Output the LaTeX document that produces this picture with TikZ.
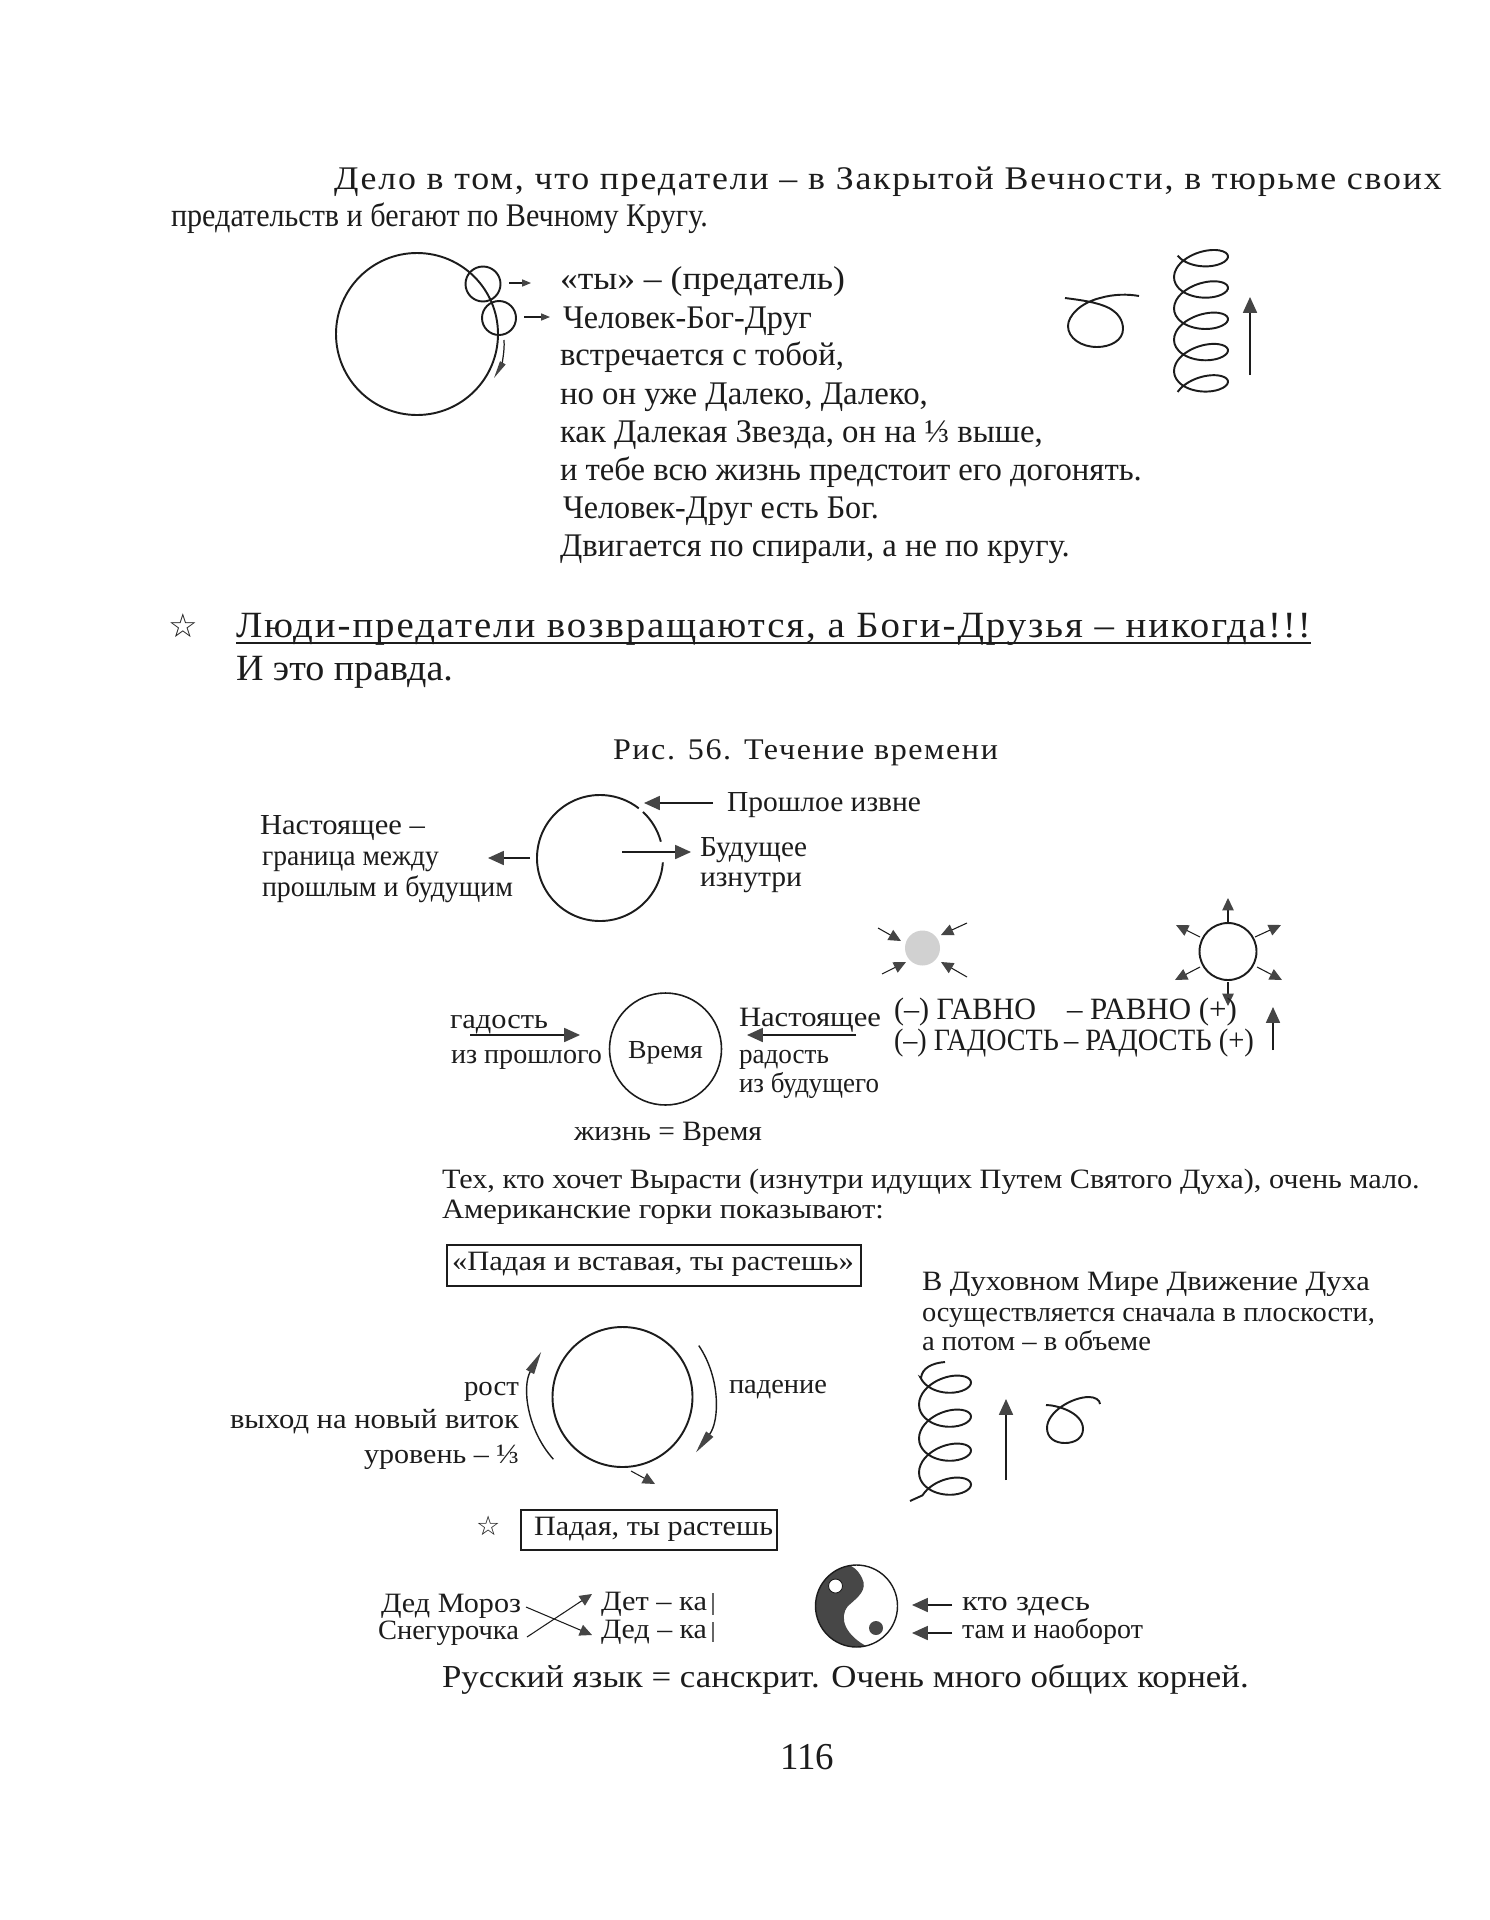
\documentclass[tikz,border=0pt]{standalone}
\usepackage{fontspec}
\usepackage{graphicx}
\setmainfont{Liberation Serif}
\newfontfamily\spaced[LetterSpace=5]{Liberation Serif}
\newfontfamily\symf{DejaVu Sans}
\usetikzlibrary{arrows.meta}
\definecolor{ink}{HTML}{1C1C1C}
\definecolor{headc}{HTML}{454545}
\newcommand\fs[1]{\fontsize{\the\dimexpr #1pt*569/1000\relax}{\the\dimexpr #1pt*680/1000\relax}\selectfont}
% name, x, baseline y, width, font size, text
\newcommand\tx[6]{\node[lbl] (#1) at (#2,-#3) {\resizebox{\dimexpr #4pt*569/1000\relax}{\height}{\fs{#5}#6}};}
\newcommand\arr[6][arrowbig]{\coordinate (#2a) at (#3); \coordinate (#2b) at (#4,#5); \draw[#1] (#2a) -- (#2b);#6}
\tikzset{
 lbl/.style={anchor=base west,inner sep=0pt,outer sep=0pt,text=ink},
 ln/.style={draw=ink,line width=1.1pt},
 thin line/.style={draw=ink,line width=0.75pt},
 arrowbig/.style={draw=ink,line width=0.8pt,-{Triangle[length=9pt,width=8pt,color=headc]}},
 arrowmid/.style={draw=ink,line width=0.6pt,-{Triangle[length=7pt,width=6.5pt,color=headc]}},
 arrowsmall/.style={draw=ink,line width=0.6pt,-{Triangle[length=5pt,width=4pt,color=headc]}},
 arrowlong/.style={draw=ink,line width=0.8pt,-{Triangle[length=13pt,width=5pt,color=headc]}},
 boxr/.style={draw=ink,line width=0.9pt,fill=none},
}
\begin{document}
\begin{tikzpicture}[x=0.02cm,y=0.02cm]
\useasboundingbox (0,0) rectangle (1489,-1920);
\fill[white] (0,0) rectangle (1489,-1920);
% top paragraph
\tx{p1}{334}{189}{1108}{33}{\spaced Дело в том, что предатели – в Закрытой Вечности, в тюрьме своих}
\tx{p2}{171}{226}{537}{33}{предательств и бегают по Вечному Кругу.}
% first figure
\draw[ln] (417,-334) circle (81);
\draw[ln] (483,-284) circle (17.5);
\draw[ln] (499,-318) circle (17);
\arr[arrowsmall]{a1}{509,-283}{531}{-283}{}
\arr[arrowsmall]{a2}{524,-317}{550}{-317}{}
\coordinate (a3a) at (504,-340); \coordinate (a3b) at (494,-378);
\draw[draw=ink,line width=0.7pt,-{Triangle[length=10pt,width=3.5pt,color=headc]}] (a3a) .. controls (505,-352) and (501,-366) .. (a3b);
\tx{t1}{560}{289}{285}{33}{«ты» – (предатель)}
\tx{t2}{563}{328}{249}{33}{Человек-Бог-Друг}
\tx{t3}{560}{365}{284}{33}{встречается с тобой,}
\tx{t4}{560}{404}{368}{33}{но он уже Далеко, Далеко,}
\tx{t5}{560}{442}{483}{33}{как Далекая Звезда, он на ⅓ выше,}
\tx{t6}{560}{480}{582}{33}{и тебе всю жизнь предстоит его догонять.}
\tx{t7}{563}{518}{316}{33}{Человек-Друг есть Бог.}
\tx{t8}{560}{556}{510}{33}{Двигается по спирали, а не по кругу.}
% curl top
\draw[ln] (1065,-298) .. controls (1080,-300) and (1097,-302) .. (1109,-308) .. controls (1118,-313) and (1123,-320) .. (1123,-329) .. controls (1123,-340) and (1111,-347) .. (1097,-347) .. controls (1081,-347) and (1068,-338) .. (1068,-326) .. controls (1068,-316) and (1080,-303) .. (1100,-298) .. controls (1114,-294) and (1128,-294) .. (1139,-296);
% coil top
\draw[ln] plot[smooth,samples=160,domain=-150:1590] ({1201+27*cos(\x)},{-(259+0.08694*\x-15*sin(\x)-2.5*cos(\x))});
\arr{a4}{1250,-375}{1250}{-297}{}
% heading
\node[lbl,font=\symf\fs{33}] (star1) at (168,-637) {☆};
\tx{h1}{236}{637}{1075}{37}{\spaced Люди-предатели возвращаются, а Боги-Друзья – никогда!!!}
\coordinate (ula) at (236,-643); \coordinate (ulb) at (1311,-643);
\draw[draw=ink,line width=0.9pt] (ula) -- (ulb);
\tx{h2}{236}{680}{217}{37}{И это правда.}
\tx{cap}{613}{759}{385}{30}{\spaced Рис. 56. Течение времени}
% time circle
\draw[ln] ([shift={(47:63)}]600,-858) arc[start angle=47,end angle=15,radius=63];
\draw[ln] ([shift={(-4:63)}]600,-858) arc[start angle=-4,end angle=-308,radius=63];
\arr{b1}{530,-858}{488}{-858}{}
\arr{b2}{713,-803}{644}{-803}{}
\arr{b3}{622,-852}{691}{-852}{}
\tx{c1}{727}{811}{194}{29}{Прошлое извне}
\tx{c2}{700}{856}{107}{29}{Будущее}
\tx{c3}{700}{886}{102}{29}{изнутри}
\tx{c4}{260}{834}{165}{29}{Настоящее –}
\tx{c5}{262}{865}{177}{29}{граница между}
\tx{c6}{262}{896}{251}{29}{прошлым и будущим}
% gray circle
\fill[black!18] (922.5,-948) circle (17.5);
\arr[arrowmid]{d1}{878,-928}{901}{-941}{}
\arr[arrowmid]{d2}{967,-923}{941}{-935}{}
\arr[arrowmid]{d3}{882,-974}{906}{-962}{}
\arr[arrowmid]{d4}{967,-977}{941}{-962}{}
% white circle
\draw[ln] (1228,-951.5) circle (28.5);
\arr[arrowmid]{e1}{1228,-922}{1228}{-898}{}
\arr[arrowmid]{e2}{1228,-982}{1228}{-1006}{}
\arr[arrowmid]{e3}{1200,-937}{1176}{-925}{}
\arr[arrowmid]{e4}{1255,-937}{1281}{-925}{}
\arr[arrowmid]{e5}{1200,-967}{1175}{-980}{}
\arr[arrowmid]{e6}{1257,-967}{1282}{-980}{}
% Время
\node[draw=ink,line width=0.9pt,circle,minimum size=112*0.5691pt,inner sep=0pt] (vr) at (665.5,-1049) {};
\tx{f1}{628}{1058}{75}{26}{Время}
\tx{f2}{450}{1028}{98}{28}{гадость}
\tx{f3}{451}{1063}{151}{28}{из прошлого}
\tx{f4}{739}{1026}{142}{28}{Настоящее}
\tx{f5}{739}{1063}{90}{28}{радость}
\tx{f6}{739}{1092}{140}{28}{из будущего}
\tx{f7}{574}{1140}{188}{28}{жизнь = Время}
\arr{g1}{470,-1035}{580}{-1035}{}
\arr{g2}{856,-1035}{747}{-1035}{}
\tx{k1}{894}{1019}{142}{31}{(–) ГАВНО}
\tx{k2}{1067}{1019}{170}{31}{– РАВНО (+)}
\tx{k3}{894}{1050}{165}{31}{(–) ГАДОСТЬ}
\tx{k4}{1064}{1050}{190}{31}{– РАДОСТЬ (+)}
\arr{g3}{1273,-1050}{1273}{-1007}{}
% paragraph
\tx{m1}{442}{1188}{978}{28}{Тех, кто хочет Вырасти (изнутри идущих Путем Святого Духа), очень мало.}
\tx{m2}{442}{1218}{442}{28}{Американские горки показывают:}
% box 1
\node[boxr,minimum width=414*0.5691pt,minimum height=41*0.5691pt,inner sep=0pt,anchor=north west] (bx1) at (446,-1244) {};
\tx{n1}{452}{1270}{402}{28}{«Падая и вставая, ты растешь»}
\tx{n2}{922}{1290}{448}{28}{В Духовном Мире Движение Духа}
\tx{n3}{922}{1321}{453}{28}{осуществляется сначала в плоскости,}
\tx{n4}{922}{1350}{229}{28}{а потом – в объеме}
% cycle
\draw[ln] (622.5,-1397) circle (70);
\coordinate (cc) at (622.5,-1397);
\draw[arrowlong] ([shift={(34:92)}]cc) arc[start angle=34,end angle=-37,radius=92];
\draw[arrowlong] ([shift={(222:93)}]cc) arc[start angle=222,end angle=151,radius=93];
\arr[arrowmid]{q1}{631,-1471}{655}{-1484}{}
\tx{r1}{729}{1393}{98}{28}{падение}
\tx{r2}{464}{1395}{55}{28}{рост}
\tx{r3}{230}{1428}{289}{28}{выход на новый виток}
\tx{r4}{364}{1463}{155}{28}{уровень – ⅓}
% star + box 2
\node[lbl,font=\symf\fs{27}] (star2) at (476,-1535) {☆};
\node[boxr,minimum width=256*0.5691pt,minimum height=40*0.5691pt,inner sep=0pt,anchor=north west] (bx2) at (520,-1509) {};
\tx{s1}{534}{1535}{239}{28}{Падая, ты растешь}
% lower coil
\draw[ln] (945,-1362) .. controls (932,-1363) and (922,-1368) .. (921,-1378)
  -- plot[smooth,samples=140,domain=200:1590] ({945+26*cos(\x)},{-(1351+0.09444*\x-16*sin(\x)-2.5*cos(\x))}) -- (910,-1501);
\arr{u1}{1006,-1480}{1006}{-1399}{}
\draw[ln] (1046,-1405) .. controls (1056,-1405) and (1083,-1412) .. (1083,-1429) .. controls (1083,-1438) and (1075,-1443) .. (1065,-1443) .. controls (1055,-1443) and (1047,-1438) .. (1047,-1428) .. controls (1047,-1412) and (1072,-1397) .. (1089,-1397) .. controls (1095,-1397) and (1100,-1400) .. (1100,-1404);
% bottom row
\tx{v1}{381}{1612}{140}{28}{Дед Мороз}
\tx{v2}{378}{1639}{141}{28}{Снегурочка}
\tx{v3}{601}{1610}{106}{28}{Дет – ка}
\tx{v4}{601}{1638}{106}{28}{Дед – ка}
\coordinate (w1) at (713,-1593); \coordinate (w2) at (713,-1615); \coordinate (w3) at (713,-1622); \coordinate (w4) at (713,-1642);
\draw[thin line,draw=black!60] (w1) -- (w2);
\draw[thin line,draw=black!60] (w3) -- (w4);
\arr[arrowmid]{x1}{526,-1607}{592}{-1635}{}
\arr[arrowmid]{x2}{527,-1637}{592}{-1594}{}
% yin yang
\begin{scope}
\clip (856.5,-1606) circle (41);
\fill[black!72] (848,-1560) -- (848,-1565) .. controls (853,-1566) and (858,-1570) .. (862,-1578) .. controls (868,-1590) and (858,-1597) .. (848,-1606) .. controls (838,-1618) and (846,-1636) .. (868,-1647) -- (868,-1660) -- (800,-1660) -- (800,-1560) -- cycle;
\end{scope}
\draw[draw=ink,line width=0.8pt] (856.5,-1606) circle (41);
\fill[white,draw=ink,line width=0.5pt] (835.5,-1586) circle (7);
\fill[black!72] (876,-1628) circle (7);
\arr{y1}{952,-1605}{912}{-1605}{}
\arr{y2}{952,-1633}{912}{-1633}{}
\tx{z1}{962}{1610}{128}{28}{кто здесь}
\tx{z2}{962}{1638}{181}{28}{там и наоборот}
\tx{z3}{442}{1687}{807}{32}{Русский язык = санскрит. Очень много общих корней.}
\tx{z4}{780}{1769}{54}{38}{116}
\end{tikzpicture}
\end{document}
